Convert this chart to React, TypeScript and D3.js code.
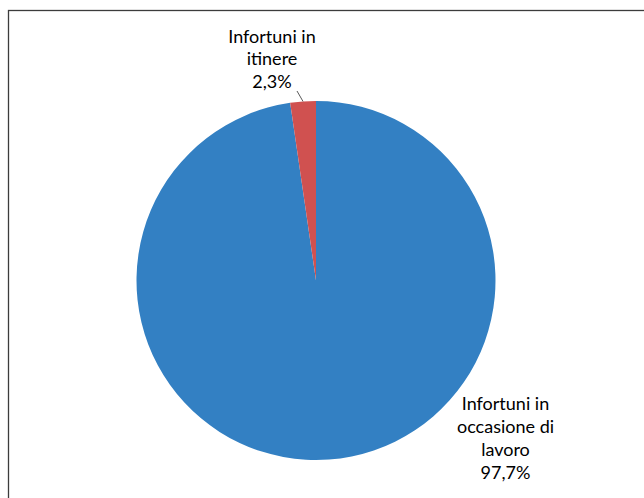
import React from "react";
import * as d3 from "d3";

const categories = ["Infortuni in occasione di lavoro", "Infortuni in itinere"];
const values = [97.7, 2.3];
const labelLines = [
  ["Infortuni in", "occasione di", "lavoro", "97,7%"],
  ["Infortuni in", "itinere", "2,3%"],
];
const colors = ["#3380C3", "#D05150"];

export default function App() {
  const W = 644, H = 498;
  const cx = 316, cy = 280.5, r = 179.5;
  const pie = d3.pie<number>().sort(null).value((d) => d)(values);
  const arc = d3.arc<d3.PieArcDatum<number>>().innerRadius(0).outerRadius(r);
  const fontFamily = "Lato, 'Open Sans', sans-serif";
  const fs = 18;
  const lh = 23;
  const labelPos = [
    { x: 505.5, y: 409.5 },
    { x: 272, y: 42.5 },
  ];
  const small = pie[1];
  const midA = (small.startAngle + small.endAngle) / 2;
  const lx1 = cx + Math.sin(midA) * r;
  const ly1 = cy - Math.cos(midA) * r;
  return (
    <svg
      width={W}
      height={H}
      style={{ position: "absolute", left: 0, top: 0, background: "#fff" }}
    >
      <rect x={8.5} y={10.5} width={W} height={H} fill="#fff" stroke="#3c3c3c" strokeWidth={1.3} />
      <g transform={`translate(${cx},${cy})`}>
        {pie.map((p, i) => (
          <path key={categories[i]} d={arc(p) || ""} fill={colors[i]} />
        ))}
      </g>
      <line x1={lx1} y1={ly1} x2={297} y2={91} stroke="#595959" strokeWidth={1} />
      {labelLines.map((lines, i) => (
        <text
          key={i}
          fontFamily={fontFamily}
          fontSize={fs}
          fontWeight={400}
          fill="#000"
          textAnchor="middle"
        >
          {lines.map((t, j) => (
            <tspan key={j} x={labelPos[i].x} y={labelPos[i].y + j * (i === 1 ? 22.5 : lh)}>
              {t}
            </tspan>
          ))}
        </text>
      ))}
    </svg>
  );
}
